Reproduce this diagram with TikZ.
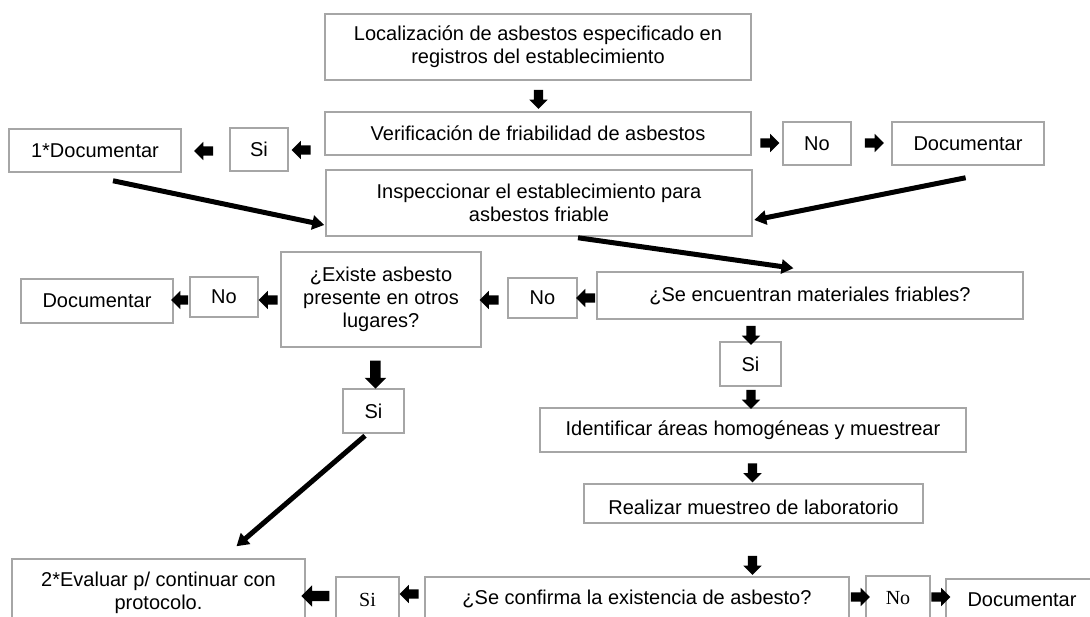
\documentclass[tikz,border=0pt]{standalone}
\usepackage{fontspec}
\setmainfont{Liberation Sans}
\newfontfamily\serifrm{Liberation Serif}
\usetikzlibrary{shapes.arrows,arrows.meta}
\definecolor{boxgray}{HTML}{A6A6A6}
\begin{document}
\begin{tikzpicture}[x=1pt,y=-1pt,
  box/.style={draw=boxgray, line width=1.5pt, inner sep=0pt, align=center,
    font=\fontsize{20}{23}\selectfont},
  txt/.style={inner sep=0pt, align=center, font=\fontsize{20}{23}\selectfont},
  barrow/.style={single arrow, fill=black, draw=none, inner xsep=0pt,
    inner ysep=4.5pt, minimum height=19pt, single arrow head extend=4.5pt},
  bigarrow/.style={barrow, inner ysep=5pt, minimum height=28pt,
    single arrow head extend=5.5pt},
  toleft/.style={rotate=180},
  todown/.style={rotate=-90},
  thickarrow/.style={line width=5pt, -{Triangle[length=12pt,width=14pt]}}
]
\fill[white] (0,0) rectangle (1090,617);
\clip (0,0) rectangle (1090,617);

% boxes
\node[box, minimum width=426pt, minimum height=66pt] (top) at (538,47)
  {Localización de asbestos especificado en\\registros del establecimiento};
\node[box, minimum width=426pt, minimum height=43pt] (verif) at (538,133.5)
  {Verificación de friabilidad de asbestos};
\node[box, minimum width=58pt, minimum height=43pt] (si1) at (259,149.5) {Si};
\node[box, minimum width=172pt, minimum height=43pt] (doc1) at (95,150.5) {1*Documentar};
\node[box, minimum width=68pt, minimum height=43pt] (no1) at (817,143.5) {No};
\node[box, minimum width=152pt, minimum height=43pt] (doc2) at (968,143.5) {Documentar};
\node[box, minimum width=426pt, minimum height=66pt] (insp) at (539,203)
  {Inspeccionar el establecimiento para\\asbestos friable};
\node[box, minimum width=426pt, minimum height=47pt] (enc) at (810,295.5)
  {¿Se encuentran materiales friables?};
\node[box, minimum width=69pt, minimum height=40pt] (no2) at (542.5,298) {No};
\node[box, minimum width=200pt, minimum height=95pt] (existe) at (381,299.5)
  {¿Existe asbesto\\presente en otros\\lugares?};
\node[box, minimum width=68pt, minimum height=40pt] (no3) at (224,297) {No};
\node[box, minimum width=152pt, minimum height=44pt] (doc3) at (97,301) {Documentar};
\node[box, minimum width=61pt, minimum height=44pt] (si2) at (373.5,411) {Si};
\node[box, minimum width=61pt, minimum height=44pt] (si4) at (750.5,364) {Si};
\node[box, minimum width=426pt, minimum height=44pt] (ident) at (753,430)
  {Identificar áreas homogéneas y muestrear};
\node[box, minimum width=339pt, minimum height=39pt] (real) at (753.5,503.5) {};
\node[txt] (realt) at (753.5,507) {Realizar muestreo de laboratorio};
\node[box, minimum width=293pt, minimum height=68pt] (eval) at (158.5,593)
  {2*Evaluar p/ continuar con\\protocolo.};
\node[box, minimum width=63pt, minimum height=46pt] (si3) at (367.5,600) {\serifrm Si};
\node[box, minimum width=424pt, minimum height=44pt] (conf) at (637,599)
  {¿Se confirma la existencia de asbesto?};
\node[box, minimum width=64pt, minimum height=44pt] (no4) at (898,598) {\serifrm No};
\node[box, minimum width=152pt, minimum height=42pt] (doc4) at (1022,600) {Documentar};

% block arrows
\node[barrow, todown] (a3) at (538.5,97) {};
\node[barrow, toleft] (a1) at (303.5,150) {};
\node[barrow, toleft] (a2) at (206,151) {};
\node[barrow] (a4) at (767.5,143) {};
\node[barrow] (a5) at (872,143) {};
\node[barrow, toleft] (a6) at (588,298) {};
\node[barrow, toleft] (a7) at (491.5,300) {};
\node[barrow, toleft] (a8) at (270.5,300) {};
\node[barrow, toleft, minimum height=17pt] (a9) at (182,300) {};
\node[bigarrow, todown] (a10) at (375.4,372) {};
\node[barrow, todown] (a11) at (751,333) {};
\node[barrow, todown] (a12) at (751,397) {};
\node[barrow, todown] (a13) at (752.5,470.5) {};
\node[barrow, todown] (a14) at (752.5,563) {};
\node[barrow, toleft] (a15) at (411.4,594) {};
\node[bigarrow, toleft] (a16) at (318,596) {};
\node[barrow] (a17) at (858,597) {};
\node[barrow] (a18) at (938.5,597) {};

% thick connectors
\draw[thickarrow] ([shift={(18,8)}]doc1.south) -- ([shift={(-1,22)}]insp.west);
\draw[thickarrow] ([shift={(-2.4,12)}]doc2.south) -- ([shift={(1.5,17)}]insp.east);
\draw[thickarrow] ([shift={(39,1)}]insp.south) -- ([shift={(-16.5,-3)}]enc.north);
\draw[thickarrow] ([shift={(-8.5,2)}]si2.south) -- ([shift={(78,-12)}]eval.north);
\end{tikzpicture}
\end{document}
